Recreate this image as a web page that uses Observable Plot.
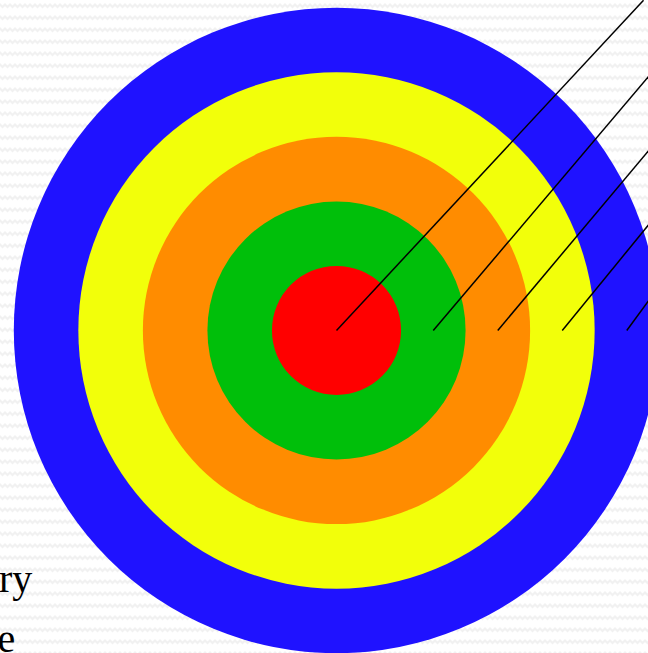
<!DOCTYPE html>
<html>
<head>
<meta charset="utf-8">
<script src="https://cdn.jsdelivr.net/npm/d3@7"></script>
<script src="https://cdn.jsdelivr.net/npm/@observablehq/plot@0.6"></script>
<style>
  html, body { margin: 0; padding: 0; overflow: hidden; background: #ffffff; }
  #chart svg {
    display: block;
    background-color: #ffffff;
    background-image: url("data:image/svg+xml,%3Csvg xmlns='http://www.w3.org/2000/svg' width='10' height='12'%3E%3Cpath d='M-2.5 7 L0 4.5 L2.5 7 L5 4.5 L7.5 7 L10 4.5 L12.5 7' fill='none' stroke='%23f1f1f1' stroke-width='2.2'/%3E%3C/svg%3E");
  }
</style>
</head>
<body>
<div id="chart"></div>
<script>
// Rings of the target, outermost first (radius in ring units)
const ringNames = ["outer", "fourth", "third", "second", "bullseye"];
const ringRadius = [5, 4, 3, 2, 1];
const ringColors = ["#1f12ff", "#f2ff0a", "#ff8c00", "#00bf0a", "#ff0000"];

// Leader lines (ring units): start on the horizontal axis, run up-right off the page
const leaderStartX = [0, 1.5, 2.5, 3.5, 4.5];
const leaderEndX = [4.76, 4.84, 4.84, 4.84, 4.84];
const leaderEndY = [5.12, 3.94, 2.79, 1.64, 0.465];

// Text fragments visible at the left edge
const labelText = ["ry", "e"];
const labelX = [-4.715, -4.98];
const labelY = [-4.06, -4.98];

const rings = ringNames.map((name, i) => ({ name, r: ringRadius[i], color: ringColors[i] }));
const leaders = leaderStartX.map((x1, i) => ({ x1, y1: 0, x2: leaderEndX[i], y2: leaderEndY[i] }));
const labels = labelText.map((t, i) => ({ t, x: labelX[i], y: labelY[i] }));

const chart = Plot.plot({
  width: 648,
  height: 653,
  margin: 0,
  x: { domain: [-5.209, 4.837], axis: null },
  y: { domain: [-5.008, 5.116], axis: null },
  r: { type: "linear", domain: [0, 5], range: [0, 322.7] },
  color: { type: "identity" },
  marks: [
    Plot.dot(rings, { x: () => 0, y: () => 0, r: "r", fill: "color", stroke: null }),
    Plot.link(leaders, { x1: "x1", y1: "y1", x2: "x2", y2: "y2", stroke: "#000000", strokeWidth: 1.5 }),
    Plot.text(labels, {
      x: "x", y: "y", text: "t",
      textAnchor: "end", lineAnchor: "bottom",
      fontSize: 40, fontFamily: "'Liberation Serif', 'Times New Roman', serif",
      fill: "#000000"
    })
  ]
});
chart.style.background = "";
document.getElementById("chart").appendChild(chart);
</script>
</body>
</html>
